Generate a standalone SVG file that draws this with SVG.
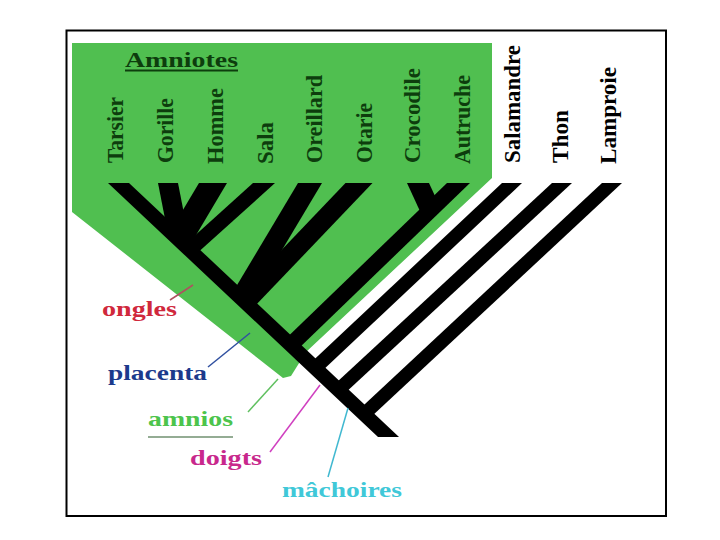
<svg xmlns="http://www.w3.org/2000/svg" width="720" height="540" viewBox="0 0 720 540">
<style>
.leaf{font-family:"Liberation Serif","Times New Roman",serif;font-weight:bold;font-size:24px}
.am{fill:#0d3d0d}
.nam{fill:#000}
.lab{font-family:"Liberation Serif","Times New Roman",serif;font-weight:bold;font-size:22px}
.br{fill:#000}
.lead{stroke-width:1.5;fill:none}
</style>
<rect x="0" y="0" width="720" height="540" fill="#fff"/>
<rect x="66.5" y="30.5" width="599.5" height="485.5" fill="none" stroke="#000" stroke-width="2"/>
<polygon id="amniotes-zone" points="72,43 492,43 492,178 306,352 291,376 283,378 72,212" fill="#50bf50"/>
<g id="title">
<text class="lab am" x="125" y="67" textLength="113" lengthAdjust="spacingAndGlyphs">Amniotes</text>
<line x1="125" y1="70.5" x2="238" y2="70.5" stroke="#0d3d0d" stroke-width="2"/>
</g>
<g id="connectors">
<polygon class="br" points="108,183 129,183 399,437 378,437"/>
<polygon class="br" points="158,183 178,183 191.4,251.5 166.9,228.5"/>
<polygon class="br" points="199,183 227,183 188.1,248.4 170.1,231.6"/>
<polygon class="br" points="253,183 275,183 195.1,255.1 184.4,244.9"/>
<polygon class="br" points="298,183 322,183 248.8,305.6 233.5,291.1"/>
<polygon class="br" points="345.5,183 372.5,183 252.3,308.9 238.1,295.5"/>
<polygon class="br" points="407,183 429,183 438.1,202.7 422.9,217.4"/>
<polygon class="br" points="447,183 470,183 296.5,350.5 284.9,339.5"/>
<polygon class="br" points="502,183 522,183 320.2,372.7 310.2,363.3"/>
<polygon class="br" points="552,183 572,183 343.5,394.6 333.5,385.3"/>
<polygon class="br" points="602,183 622,183 369.1,418.7 359.1,409.4"/>
<line class="lead" x1="170" y1="300" x2="193" y2="285" stroke="#b05060"/>
<line class="lead" x1="208" y1="367" x2="250" y2="333" stroke="#3050a0"/>
<line class="lead" x1="248" y1="412" x2="278" y2="379" stroke="#60c060"/>
<line class="lead" x1="270" y1="452" x2="320" y2="385" stroke="#d040c0"/>
<line class="lead" x1="328" y1="477" x2="348" y2="408" stroke="#40b8d0"/>
<line x1="148" y1="437" x2="233" y2="437" stroke="#2a5a2a" stroke-width="1.2"/>
</g>
<g id="leaf-tarsier"><text class="leaf am" transform="translate(123,163) rotate(-90)" textLength="66" lengthAdjust="spacingAndGlyphs">Tarsier</text></g>
<g id="leaf-gorille"><text class="leaf am" transform="translate(173,163) rotate(-90)" textLength="65" lengthAdjust="spacingAndGlyphs">Gorille</text></g>
<g id="leaf-homme"><text class="leaf am" transform="translate(223,164) rotate(-90)" textLength="76" lengthAdjust="spacingAndGlyphs">Homme</text></g>
<g id="leaf-sala"><text class="leaf am" transform="translate(273,164) rotate(-90)" textLength="42" lengthAdjust="spacingAndGlyphs">Sala</text></g>
<g id="leaf-oreillard"><text class="leaf am" transform="translate(322,163) rotate(-90)" textLength="88" lengthAdjust="spacingAndGlyphs">Oreillard</text></g>
<g id="leaf-otarie"><text class="leaf am" transform="translate(372,163) rotate(-90)" textLength="60" lengthAdjust="spacingAndGlyphs">Otarie</text></g>
<g id="leaf-crocodile"><text class="leaf am" transform="translate(420,163) rotate(-90)" textLength="95" lengthAdjust="spacingAndGlyphs">Crocodile</text></g>
<g id="leaf-autruche"><text class="leaf am" transform="translate(470,164) rotate(-90)" textLength="89" lengthAdjust="spacingAndGlyphs">Autruche</text></g>
<g id="leaf-salamandre"><text class="leaf nam" transform="translate(520,163) rotate(-90)" textLength="118" lengthAdjust="spacingAndGlyphs">Salamandre</text></g>
<g id="leaf-thon"><text class="leaf nam" transform="translate(568,163) rotate(-90)" textLength="53" lengthAdjust="spacingAndGlyphs">Thon</text></g>
<g id="leaf-lamproie"><text class="leaf nam" transform="translate(616,164) rotate(-90)" textLength="97" lengthAdjust="spacingAndGlyphs">Lamproie</text></g>
<g id="label-ongles"><text class="lab" x="102" y="316" fill="#d0283c" textLength="75" lengthAdjust="spacingAndGlyphs">ongles</text></g>
<g id="label-placenta"><text class="lab" x="108" y="380" fill="#1c3a8c" textLength="99" lengthAdjust="spacingAndGlyphs">placenta</text></g>
<g id="label-amnios"><text class="lab" x="148" y="426" fill="#4cc44c" textLength="85" lengthAdjust="spacingAndGlyphs">amnios</text></g>
<g id="label-doigts"><text class="lab" x="190" y="465" fill="#c8288c" textLength="72" lengthAdjust="spacingAndGlyphs">doigts</text></g>
<g id="label-machoires"><text class="lab" x="282" y="497" fill="#40c8d8" textLength="120" lengthAdjust="spacingAndGlyphs">mâchoires</text></g>
</svg>
